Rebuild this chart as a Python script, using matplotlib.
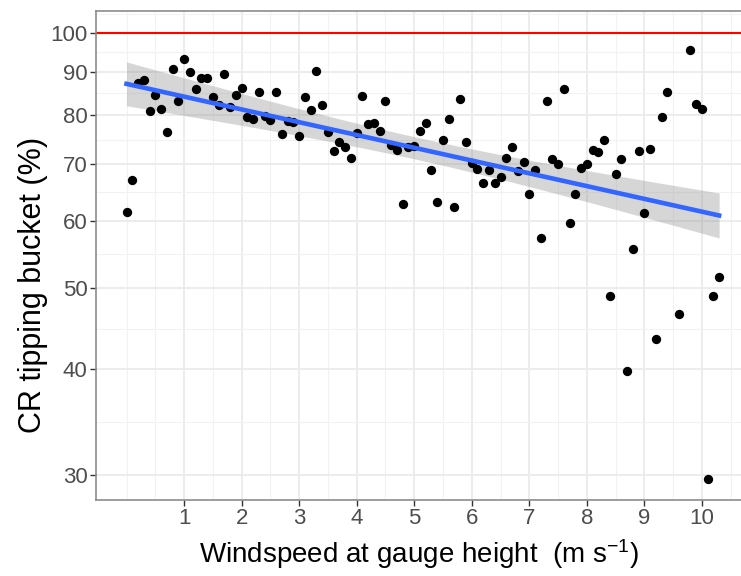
import numpy as np
import matplotlib
matplotlib.use("Agg")
import matplotlib.pyplot as plt

plt.rcParams['font.family'] = ['Liberation Sans', 'DejaVu Sans']
plt.rcParams['mathtext.fontset'] = 'custom'
plt.rcParams['mathtext.rm'] = 'Liberation Sans'
plt.rcParams['mathtext.it'] = 'Liberation Sans:italic'

# windspeed (m/s) and catch ratio (%)
windspeed = [0.0, 0.1, 0.2, 0.3, 0.4, 0.5, 0.6, 0.7, 0.8, 0.9,
             1.0, 1.1, 1.2, 1.3, 1.4, 1.5, 1.6, 1.7, 1.8, 1.9,
             2.0, 2.1, 2.2, 2.3, 2.4, 2.5, 2.6, 2.7, 2.8, 2.9,
             3.0, 3.1, 3.2, 3.3, 3.4, 3.5, 3.6, 3.7, 3.8, 3.9,
             4.0, 4.1, 4.2, 4.3, 4.4, 4.5, 4.6, 4.7, 4.8, 4.9,
             5.0, 5.1, 5.2, 5.3, 5.4, 5.5, 5.6, 5.7, 5.8, 5.9,
             6.0, 6.1, 6.2, 6.3, 6.4, 6.5, 6.6, 6.7, 6.8, 6.9,
             7.0, 7.1, 7.2, 7.3, 7.4, 7.5, 7.6, 7.7, 7.8, 7.9,
             8.0, 8.1, 8.2, 8.3, 8.4, 8.5, 8.6, 8.7, 8.8, 8.9,
             9.0, 9.1, 9.2, 9.3, 9.4, 9.6, 9.8, 9.9,
             10.0, 10.1, 10.2, 10.3]
catch_ratio = [61.5, 67.0, 87.3, 88.0, 80.9, 84.4, 81.4, 76.4, 90.8, 83.0,
               93.2, 90.0, 85.9, 88.4, 88.5, 84.1, 82.3, 89.5, 81.8, 84.4,
               86.2, 79.5, 79.1, 85.2, 79.7, 78.9, 85.2, 76.0, 78.8, 78.5,
               75.5, 84.1, 81.2, 90.2, 82.2, 76.4, 72.6, 74.4, 73.4, 71.2,
               76.1, 84.2, 78.0, 78.2, 76.5, 83.2, 73.8, 72.8, 62.7, 73.4,
               73.6, 76.5, 78.2, 68.9, 63.2, 74.7, 79.1, 62.3, 83.6, 74.4,
               70.2, 69.1, 66.5, 68.9, 66.5, 67.6, 71.1, 73.4, 68.7, 70.3,
               64.5, 68.9, 57.3, 83.1, 70.9, 70.1, 85.8, 59.6, 64.5, 69.3,
               70.1, 72.7, 72.3, 74.7, 48.9, 68.1, 70.9, 39.8, 55.5, 72.5,
               61.3, 73.0, 43.5, 79.6, 85.2, 46.5, 95.6, 82.4,
               81.4, 29.7, 48.8, 51.4]

x_breaks = list(range(1, 11))
y_breaks = [30, 40, 50, 60, 70, 80, 90, 100]

x = np.array(windspeed)
y = np.array(catch_ratio)

# linear fit on log10 scale (like geom_smooth(method="lm") with log y axis)
ly = np.log10(y)
n = len(x)
slope, intercept = np.polyfit(x, ly, 1)
resid = ly - (intercept + slope * x)
s = np.sqrt(np.sum(resid ** 2) / (n - 2))
xfit = np.linspace(x.min(), x.max(), 80)
yfit = intercept + slope * xfit
se = s * np.sqrt(1 / n + (xfit - x.mean()) ** 2 / np.sum((x - x.mean()) ** 2))
t = 1.984
lo = 10 ** (yfit - t * se)
hi = 10 ** (yfit + t * se)

fig = plt.figure(figsize=(7.41, 5.76), dpi=100)
ax = fig.add_axes([0.1296, 0.1319, 0.8704, 0.849])

ax.set_yscale('log')

ax.axhline(100, color='#FF0000', lw=1.5, zorder=2)
ax.fill_between(xfit, lo, hi, color='#999999', alpha=0.4, lw=0, zorder=3)
ax.scatter(x, y, s=45, color='black', lw=0, zorder=4)
ax.plot(xfit, 10 ** yfit, color='#3366FF', lw=3.3, zorder=5)

# ticks and grid
ax.set_xticks(x_breaks)
ax.set_xticklabels([str(v) for v in x_breaks])
ax.set_xticks([0] + [b + 0.5 for b in range(0, 11)], minor=True)
ax.set_yticks(y_breaks)
ax.set_yticklabels([str(v) for v in y_breaks])
ymin = [np.sqrt(a * b) for a, b in zip(y_breaks[:-1], y_breaks[1:])] + [np.sqrt(100 * 10000 / 90)]
ax.set_yticks(ymin, minor=True)
ax.yaxis.set_minor_formatter(matplotlib.ticker.NullFormatter())

# limits after ticks so they are not widened
ax.set_xlim(-0.53, 10.68)
ax.set_ylim(28.03, 106.2)

ax.grid(True, which='major', color='#EBEBEB', lw=1.3, zorder=0)
ax.grid(True, which='minor', color='#F2F2F2', lw=0.8, zorder=0)
ax.set_axisbelow(True)

ax.tick_params(which='major', length=4, width=1, color='#333333',
               labelsize=16, labelcolor='#4D4D4D', pad=2)
ax.tick_params(which='minor', length=0)

for side in ['top', 'left', 'bottom']:
    ax.spines[side].set_color('#8C8C8C')
    ax.spines[side].set_linewidth(1.2)
ax.spines['right'].set_visible(False)

ax.set_xlabel('Windspeed at gauge height  (m s$^{-1}$)', fontsize=20, labelpad=6)
ax.set_ylabel('CR tipping bucket (%)', fontsize=22)
ax.yaxis.set_label_coords(-0.075, 0.44)

fig.savefig('out.png', dpi=100)
